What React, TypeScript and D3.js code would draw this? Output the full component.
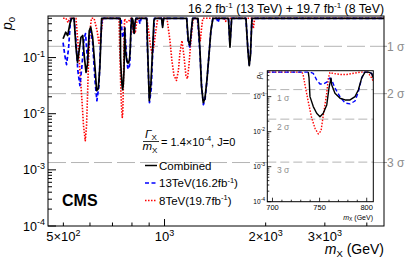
import React from 'react';
import * as d3 from 'd3';

// p0 vs mass (GeV)
const combined: [number, number][] = [
  [499, 0.216], [508, 0.283], [515, 0.247], [523, 0.4], [529, 0.5], [538, 0.5], [545, 0.153], [551, 0.082],
  [557, 0.133], [564, 0.23], [571, 0.247], [576, 0.116], [584, 0.0546], [590, 0.077], [597, 0.3], [603, 0.35],
  [611, 0.23], [621, 0.067], [628, 0.0258], [635, 0.0276], [642, 0.067], [650, 0.5], [738, 0.5], [738.8, 0.342],
  [739.8, 0.1], [743.3, 0.052], [746.9, 0.0336], [750.4, 0.0268], [753.9, 0.0336], [757.6, 0.058], [760, 0.177],
  [762.1, 0.336], [762.9, 0.216], [766.3, 0.125], [771.7, 0.09], [777, 0.0805], [782.3, 0.0805], [787.6, 0.1],
  [791.1, 0.155], [794.7, 0.342], [798.2, 0.5], [801.7, 0.5], [805.3, 0.46], [807, 0.34], [812, 0.27], [816, 0.4],
  [822, 0.5], [885, 0.5], [891, 0.133], [901, 0.017], [911, 0.0343], [922, 0.15], [930, 0.458], [936, 0.5],
  [980, 0.5], [987, 0.344], [994, 0.5], [1164, 0.5], [1177, 0.2], [1190, 0.164], [1204, 0.34], [1212, 0.5],
  [1258, 0.5], [1275, 0.133], [1288, 0.0316], [1304, 0.0157], [1319, 0.0185], [1337, 0.039], [1356, 0.109],
  [1374, 0.3], [1393, 0.5], [1550, 0.5], [1566, 0.153], [1584, 0.5], [1747, 0.5], [1771, 0.133], [1787, 0.072],
  [1802, 0.109], [1820, 0.5], [4500, 0.5],
];

const tev13: [number, number][] = [
  [499, 0.185], [505, 0.109], [511, 0.075], [518, 0.145], [525, 0.458], [528, 0.5], [538, 0.5], [545, 0.2],
  [552, 0.059], [560, 0.0316], [568, 0.072], [576, 0.218], [582, 0.268], [590, 0.088], [597, 0.247], [603, 0.3],
  [611, 0.185], [621, 0.039], [629, 0.017], [638, 0.0316], [645, 0.164], [651, 0.5], [739.8, 0.5], [743.3, 0.46],
  [746.9, 0.3], [750.4, 0.23], [754, 0.23], [757.6, 0.26], [761, 0.34], [762.9, 0.3], [766.3, 0.177],
  [771.7, 0.098], [777, 0.066], [782.3, 0.062], [787.6, 0.075], [791.1, 0.137], [794.7, 0.34], [797, 0.48],
  [799, 0.5], [801.7, 0.5], [805.3, 0.46], [807, 0.34], [812, 0.27], [816, 0.4], [822, 0.5], [838, 0.5],
  [845, 0.4], [852, 0.5], [885, 0.5], [889, 0.164], [902, 0.0157], [913, 0.028], [924, 0.164], [933, 0.5],
  [980, 0.5], [987, 0.38], [994, 0.5], [1164, 0.5], [1175, 0.2], [1190, 0.15], [1206, 0.37], [1214, 0.5],
  [1255, 0.5], [1275, 0.12], [1290, 0.03], [1305, 0.0145], [1320, 0.018], [1338, 0.04], [1356, 0.11],
  [1374, 0.3], [1393, 0.5], [1430, 0.5], [1443, 0.42], [1456, 0.5], [1550, 0.5], [1566, 0.17], [1584, 0.5],
  [1747, 0.5], [1771, 0.14], [1787, 0.075], [1802, 0.11], [1820, 0.5], [4500, 0.5],
];

const tev8: [number, number][] = [
  [499, 0.5], [509, 0.5], [516, 0.42], [523, 0.5], [545, 0.5], [552, 0.2], [560, 0.059], [568, 0.017],
  [574, 0.0061], [581, 0.0033], [586, 0.0061], [590, 0.021], [594, 0.088], [600, 0.3], [606, 0.5], [617, 0.5],
  [630, 0.3], [638, 0.18], [647, 0.25], [655, 0.5], [731, 0.5], [732.4, 0.44], [734.5, 0.216], [738, 0.0707],
  [741.6, 0.0246], [745.1, 0.0125], [748.6, 0.0086], [751.5, 0.0105], [754, 0.03], [757.6, 0.128],
  [759.3, 0.34], [761, 0.49], [764.2, 0.46], [771.7, 0.43], [779, 0.43], [787.6, 0.47], [792.9, 0.5],
  [801, 0.5], [805.3, 0.34], [807, 0.27], [812, 0.3], [818, 0.27], [825, 0.4], [832, 0.5], [885, 0.5],
  [897, 0.3], [908, 0.16], [918, 0.12], [930, 0.16], [942, 0.3], [955, 0.5], [1017, 0.5], [1038, 0.2],
  [1052, 0.088], [1067, 0.048], [1085, 0.039], [1100, 0.059], [1111, 0.12], [1127, 0.2], [1142, 0.109],
  [1158, 0.048], [1170, 0.042], [1182, 0.072], [1198, 0.2], [1215, 0.458], [1223, 0.5], [1250, 0.5],
  [1265, 0.3], [1278, 0.2], [1290, 0.35], [1300, 0.5], [1500, 0.5], [1520, 0.44], [1540, 0.5], [1820, 0.5],
  [1838, 0.33], [1855, 0.5], [4500, 0.5],
];

const sigmas = [0.1587, 0.02275, 0.00135];
const sigmaNames = ['1 σ', '2 σ', '3 σ'];
const decades = [-4, -3, -2, -1];
const xMinor = [500, 600, 700, 800, 900, 2000, 3000, 4000];
const xMajor = [1000];
const xLabels = [
  { v: 500, base: '5×10', exp: '2' },
  { v: 1000, base: '10', exp: '3' },
  { v: 2000, base: '2×10', exp: '3' },
  { v: 3000, base: '3×10', exp: '3' },
];
const insetXMajor = [700, 750, 800];
const insetXMinor = d3.range(700, 810, 10);

const font = 'Liberation Sans, Arial, Helvetica, sans-serif';
const plot = { left: 48, right: 384, top: 16, bottom: 226 };
const ins = { left: 267.3, right: 373.3, top: 70.7, bottom: 201.7 };

const x = d3.scaleLog().domain([450, 4500]).range([plot.left, plot.right]);
const y = d3.scaleLog().domain([1e-4, 0.55]).range([plot.bottom, plot.top]);
const xi = d3.scaleLinear().domain([694.5, 807]).range([ins.left, ins.right]);
const yi = d3.scaleLog().domain([1e-4, 0.55]).range([ins.bottom, ins.top]);

const mainLine = d3.line<[number, number]>().x(d => x(d[0])).y(d => y(d[1]));
const insetLine = d3.line<[number, number]>().x(d => xi(d[0])).y(d => yi(d[1]));
const insetPts = (s: [number, number][]) => s.filter(d => d[0] > 650 && d[0] < 900);

const yTicks: { v: number; major: boolean }[] = [];
decades.forEach(d => {
  for (let k = 1; k <= 9; k++) {
    const v = k * Math.pow(10, d);
    if (v <= 0.55) yTicks.push({ v, major: k === 1 });
  }
});

const series = [
  { data: tev8, color: '#ff0000', dash: '1.5,1.5', w: 1.6 },
  { data: tev13, color: '#0000ff', dash: '4,2.5', w: 1.7 },
  { data: combined, color: '#000000', dash: undefined, w: 1.7 },
];

const Pow = ({ x, y, base, exp, size, sup, anchor, fill = '#000' }: any) => (
  <text x={x} y={y} fontSize={size} textAnchor={anchor} fill={fill} fontFamily={font}>
    {base}
    <tspan dy={-size * 0.42} fontSize={sup}>{exp}</tspan>
  </text>
);

export default function App() {
  return (
    <svg width={405} height={263} style={{ position: 'absolute', left: 0, top: 0, background: '#fff' }}>
      <defs>
        <clipPath id="mainClip">
          <rect x={plot.left} y={plot.top} width={plot.right - plot.left} height={plot.bottom - plot.top} />
        </clipPath>
        <clipPath id="insClip">
          <rect x={ins.left} y={ins.top} width={ins.right - ins.left} height={ins.bottom - ins.top} />
        </clipPath>
      </defs>

      {/* title */}
      <text x={384} y={12.5} textAnchor="end" fontSize={12.3} fontFamily={font}>
        16.2 fb<tspan dy={-5} fontSize={8}>-1</tspan>
        <tspan dy={5}> (13 TeV) + 19.7 fb</tspan>
        <tspan dy={-5} fontSize={8}>-1</tspan>
        <tspan dy={5}> (8 TeV)</tspan>
      </text>

      {/* sigma lines */}
      {sigmas.map((s, i) => (
        <g key={i}>
          <line x1={plot.left} x2={plot.right} y1={y(s)} y2={y(s)} stroke="#b4b4b4" strokeDasharray="18,5" />
          <line x1={plot.right} x2={plot.right + 3} y1={y(s)} y2={y(s)} stroke="#999" />
          <text x={387} y={y(s) + 4.5} fontSize={12} fill="#8c8c8c" fontFamily={font}>{sigmaNames[i]}</text>
        </g>
      ))}

      {/* curves */}
      <g clipPath="url(#mainClip)">
        {series.map((s, i) => (
          <path key={i} d={mainLine(s.data) || ''} fill="none" stroke={s.color} strokeWidth={s.w}
            strokeDasharray={s.dash} strokeLinejoin="round" />
        ))}
      </g>

      {/* frame and axes */}
      <rect x={plot.left} y={plot.top} width={plot.right - plot.left} height={plot.bottom - plot.top}
        fill="none" stroke="#000" strokeWidth={1} />
      {yTicks.map((t, i) => (
        <line key={i} x1={plot.left} x2={plot.left + (t.major ? 8 : 4)} y1={y(t.v)} y2={y(t.v)} stroke="#000" />
      ))}
      {decades.map(d => (
        <Pow key={d} x={45} y={y(Math.pow(10, d)) + 4.5} base="10" exp={String(d)} size={12.5} sup={9} anchor="end" />
      ))}
      {xMinor.map(v => (
        <line key={v} x1={x(v)} x2={x(v)} y1={plot.bottom} y2={plot.bottom - 3.5} stroke="#000" />
      ))}
      {xMajor.map(v => (
        <line key={v} x1={x(v)} x2={x(v)} y1={plot.bottom} y2={plot.bottom - 7} stroke="#000" />
      ))}
      {xLabels.map(l => (
        <Pow key={l.v} x={x(l.v)} y={241} base={l.base} exp={l.exp} size={13} sup={9} anchor="middle" />
      ))}
      <text x={384} y={253.5} textAnchor="end" fontSize={14} fontFamily={font}>
        <tspan fontStyle="italic">m</tspan>
        <tspan dy={3.5} fontSize={9.5}>X</tspan>
        <tspan dy={-3.5}> (GeV)</tspan>
      </text>
      <text transform="translate(12,17) rotate(-90)" textAnchor="end" fontSize={14} fontFamily={font}>
        <tspan fontStyle="italic">p</tspan>
        <tspan dy={3} fontSize={9.5}>0</tspan>
      </text>

      {/* CMS label */}
      <text x={62} y={206} fontSize={16} fontWeight="bold" fontFamily={font}>CMS</text>

      {/* legend */}
      <g fontFamily={font}>
        <text x={145} y={137.5} fontSize={11.5}>
          <tspan fontStyle="italic">Γ</tspan>
          <tspan dy={2.5} fontSize={8}>X</tspan>
        </text>
        <line x1={143} x2={159} y1={141.5} y2={141.5} stroke="#000" strokeWidth={0.8} />
        <text x={142.5} y={150} fontSize={11.5}>
          <tspan fontStyle="italic">m</tspan>
          <tspan dy={2.5} fontSize={8}>X</tspan>
        </text>
        <text x={161} y={145.5} fontSize={11}>
          = 1.4×10<tspan dy={-4.5} fontSize={7.5}>-4</tspan>
          <tspan dy={4.5}>, J=0</tspan>
        </text>
        {[
          { s: series[2], label: 'Combined', sup: '', tail: '' },
          { s: series[1], label: '13TeV(16.2fb', sup: '-1', tail: ')' },
          { s: series[0], label: '8TeV(19.7fb', sup: '-1', tail: ')' },
        ].map((r, i) => {
          const cy = 165.5 + i * 17.5;
          return (
            <g key={i}>
              <line x1={145} x2={157} y1={cy} y2={cy} stroke={r.s.color} strokeWidth={1.5}
                strokeDasharray={r.s.dash} />
              <text x={159} y={cy + 4} fontSize={11.5}>
                {r.label}
                {r.sup && <tspan dy={-4.5} fontSize={7.5}>{r.sup}</tspan>}
                {r.tail && <tspan dy={4.5}>{r.tail}</tspan>}
              </text>
            </g>
          );
        })}
      </g>

      {/* inset */}
      <rect x={ins.left} y={ins.top} width={ins.right - ins.left} height={ins.bottom - ins.top} fill="#fff" />
      {sigmas.map((s, i) => (
        <g key={i}>
          <line x1={ins.left} x2={ins.right} y1={yi(s)} y2={yi(s)} stroke="#b4b4b4" strokeDasharray="9,4" />
          <text x={277} y={yi(s) + 11} fontSize={8.5} fill="#8c8c8c" fontFamily={font}>{sigmaNames[i]}</text>
        </g>
      ))}
      <g clipPath="url(#insClip)">
        {series.map((s, i) => (
          <path key={i} d={insetLine(insetPts(s.data)) || ''} fill="none" stroke={s.color} strokeWidth={1.4}
            strokeDasharray={s.dash} strokeLinejoin="round" />
        ))}
      </g>
      <rect x={ins.left} y={ins.top} width={ins.right - ins.left} height={ins.bottom - ins.top}
        fill="none" stroke="#000" strokeWidth={1} />
      {yTicks.map((t, i) => (
        <line key={i} x1={ins.left} x2={ins.left + (t.major ? 4 : 2)} y1={yi(t.v)} y2={yi(t.v)} stroke="#000" strokeWidth={0.8} />
      ))}
      {decades.map(d => (
        <Pow key={d} x={265} y={yi(Math.pow(10, d)) + 2} base="10" exp={String(d)} size={6.5} sup={5} anchor="end" />
      ))}
      {insetXMinor.map(v => (
        <line key={v} x1={xi(v)} x2={xi(v)} y1={ins.bottom} y2={ins.bottom - (insetXMajor.includes(v) ? 4 : 2)}
          stroke="#000" strokeWidth={0.8} />
      ))}
      {insetXMajor.map(v => (
        <text key={v} x={xi(v)} y={210} textAnchor="middle" fontSize={7.5} fontFamily={font}>{v}</text>
      ))}
      <text x={373} y={219.5} textAnchor="end" fontSize={7} fontFamily={font}>
        <tspan fontStyle="italic">m</tspan>
        <tspan dy={1.8} fontSize={5}>X</tspan>
        <tspan dy={-1.8}> (GeV)</tspan>
      </text>
      <text transform="translate(261,72) rotate(-90)" textAnchor="end" fontSize={7.5} fontFamily={font}>
        <tspan fontStyle="italic">p</tspan>
        <tspan dy={1.6} fontSize={5}>0</tspan>
      </text>
    </svg>
  );
}
